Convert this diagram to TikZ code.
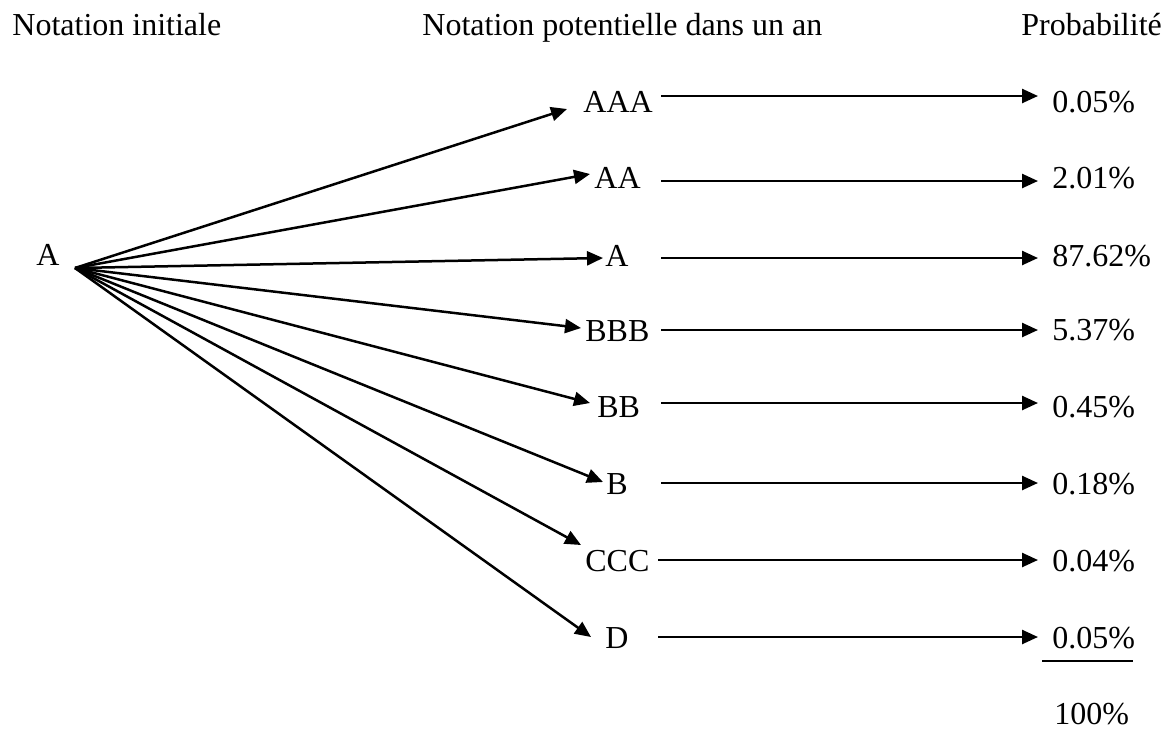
\documentclass[tikz,border=0pt]{standalone}
\usepackage{fontspec}
\setmainfont{Liberation Serif}
\usetikzlibrary{arrows.meta}
\begin{document}
\begin{tikzpicture}[x=0.5pt,y=-0.5pt,
  lbl/.style={anchor=base west,inner sep=0pt,font=\fontsize{16}{19}\selectfont},
  conn/.style={line width=1.25pt,-{Triangle[length=8pt,width=7pt]}},
  rule/.style={line width=0.6pt}]
\useasboundingbox (0,0) rectangle (1168,729);

% column headings
\node[lbl] (h1) at (12,35) {Notation initiale};
\node[lbl] (h2) at (422,35) {Notation potentielle dans un an};
\node[lbl] (h3) at (1021,35) {Probabilit\'e};

% initial rating and fan origin
\node[lbl] (r0) at (36,265) {A};
\coordinate (src) at (75,268);

% ratings after one year
\node[lbl] (r1) at (583,112) {AAA};
\node[lbl] (r2) at (594,188) {AA};
\node[lbl] (r3) at (605,266) {A};
\node[lbl] (r4) at (585,341) {BBB};
\node[lbl] (r5) at (597,417) {BB};
\node[lbl] (r6) at (606,494) {B};
\node[lbl] (r7) at (585,571) {CCC};
\node[lbl] (r8) at (605,648) {D};

% arrow tips of the fan
\coordinate (t1) at (567,109);
\coordinate (t2) at (590,174);
\coordinate (t3) at (603,258);
\coordinate (t4) at (581,328);
\coordinate (t5) at (590,403);
\coordinate (t6) at (603,482);
\coordinate (t7) at (581,545);
\coordinate (t8) at (591,637);

\foreach \i in {1,...,8} \draw[conn] (src) -- (t\i);

% probabilities
\node[lbl] (p1) at (1052,112) {0.05\%};
\node[lbl] (p2) at (1052,188) {2.01\%};
\node[lbl] (p3) at (1052,266) {87.62\%};
\node[lbl] (p4) at (1052,340) {5.37\%};
\node[lbl] (p5) at (1052,417) {0.45\%};
\node[lbl] (p6) at (1052,494) {0.18\%};
\node[lbl] (p7) at (1052,571) {0.04\%};
\node[lbl] (p8) at (1052,648) {0.05\%};
\node[lbl] (tot) at (1054,724) {100\%};

% horizontal arrows from ratings to probabilities
\foreach \i/\y/\xs in {1/96/661,2/181/661,3/258/661,4/330/661,5/403/661,6/483/661,7/560/658,8/637/658}{
  \coordinate (s\i) at (\xs,\y);
  \coordinate (e\i) at (1038,\y);
  \draw[conn] (s\i) -- (e\i);
}

% sum rule
\coordinate (u1) at (1042,661);
\coordinate (u2) at (1133,661);
\draw[rule] (u1) -- (u2);
\end{tikzpicture}
\end{document}
